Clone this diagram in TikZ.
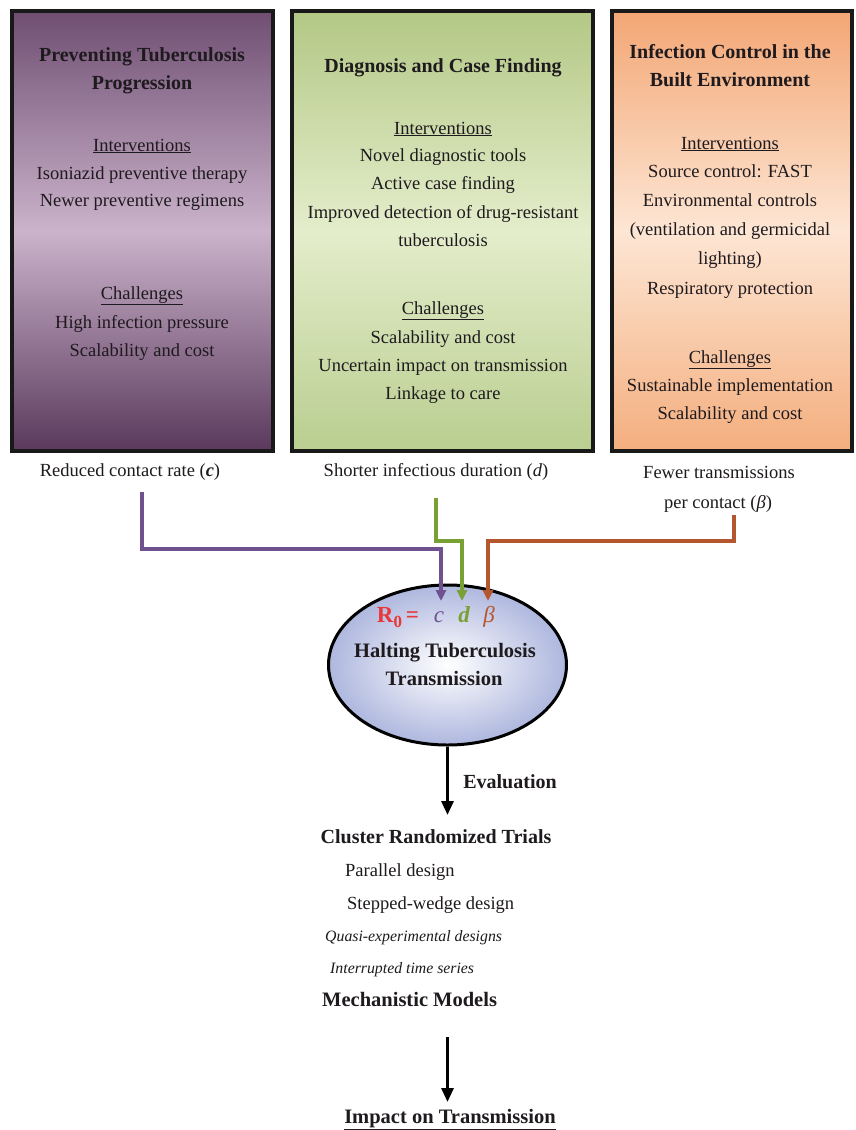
\documentclass[tikz,border=0pt]{standalone}
\usepackage{fontspec}
\setmainfont{Liberation Serif}
\usetikzlibrary{shapes.geometric,arrows.meta}
\definecolor{purpTop}{HTML}{6F4E72}
\definecolor{purpMid}{HTML}{CBB3CB}
\definecolor{purpBot}{HTML}{5A395C}
\definecolor{grnTop}{HTML}{B3C885}
\definecolor{grnMid}{HTML}{E4EDCB}
\definecolor{grnBot}{HTML}{B9CE90}
\definecolor{orTop}{HTML}{F3A674}
\definecolor{orMid}{HTML}{FDE6D4}
\definecolor{orBot}{HTML}{F4AE7E}
\definecolor{ellOut}{HTML}{AEB7DE}
\definecolor{cPurple}{HTML}{6F5190}
\definecolor{dGreen}{HTML}{78A035}
\definecolor{bBrown}{HTML}{B4562E}
\definecolor{rRed}{HTML}{E8383A}
\definecolor{txtDark}{HTML}{1E1A1E}
\begin{document}
\begin{tikzpicture}[x=1pt,y=-1pt,
  panel/.style={draw=black!90, line width=3.5pt, rectangle, inner sep=0pt},
  body/.style={font=\fontsize{18.5}{22}\selectfont, anchor=base, inner sep=0pt, text=txtDark},
  ttl/.style={font=\fontsize{20}{24}\selectfont\bfseries, anchor=base, inner sep=0pt, text=txtDark},
  itl/.style={font=\fontsize{15.8}{19}\selectfont\itshape, anchor=base west, inner sep=0pt, text=txtDark},
  conn/.style={line width=3.5pt, -{Triangle[length=11pt,width=10pt]}},
  blackarrow/.style={line width=3pt, black, -{Triangle[length=14pt,width=12pt]}}
]
\useasboundingbox (0,0) rectangle (856,1130);
\fill[white] (0,0) rectangle (856,1130);

% panels
\node[panel, minimum width=261pt, minimum height=440pt, top color=purpTop, bottom color=purpBot, middle color=purpMid] (p1) at (142.5,231) {};
\node[panel, minimum width=301pt, minimum height=440pt, top color=grnTop, bottom color=grnBot, middle color=grnMid] (p2) at (442.5,231) {};
\node[panel, minimum width=240pt, minimum height=440pt, top color=orTop, bottom color=orBot, middle color=orMid] (p3) at (732,231) {};

% panel 1 text
\node[ttl] (p1t1) at (142,61) {Preventing Tuberculosis};
\node[ttl] (p1t2) at (142,89) {Progression};
\node[body] (p1i) at (142,151) {\underline{Interventions}};
\node[body] (p1i1) at (142,179) {Isoniazid preventive therapy};
\node[body] (p1i2) at (142,206) {Newer preventive regimens};
\node[body] (p1c) at (142,299) {\underline{Challenges}};
\node[body] (p1c1) at (142,328) {High infection pressure};
\node[body] (p1c2) at (142,356) {Scalability and cost};

% panel 2 text
\node[ttl] (p2t1) at (443,72) {Diagnosis and Case Finding};
\node[body] (p2i) at (443,134) {\underline{Interventions}};
\node[body] (p2i1) at (443,161) {Novel diagnostic tools};
\node[body] (p2i2) at (443,189) {Active case finding};
\node[body] (p2i3) at (443,218) {Improved detection of drug-resistant};
\node[body] (p2i4) at (443,246) {tuberculosis};
\node[body] (p2c) at (443,314) {\underline{Challenges}};
\node[body] (p2c1) at (443,343) {Scalability and cost};
\node[body] (p2c2) at (443,371) {Uncertain impact on transmission};
\node[body] (p2c3) at (443,399) {Linkage to care};

% panel 3 text
\node[ttl] (p3t1) at (730,58) {Infection Control in the};
\node[ttl] (p3t2) at (730,86) {Built Environment};
\node[body] (p3i) at (730,149) {\underline{Interventions}};
\node[body] (p3i1) at (730,177) {Source control: FAST};
\node[body] (p3i2) at (730,206) {Environmental controls};
\node[body] (p3i3) at (730,235) {(ventilation and germicidal};
\node[body] (p3i4) at (730,264) {lighting)};
\node[body] (p3i5) at (730,294) {Respiratory protection};
\node[body] (p3c) at (730,363) {\underline{Challenges}};
\node[body] (p3c1) at (730,391) {Sustainable implementation};
\node[body] (p3c2) at (730,419) {Scalability and cost};

% effect labels
\node[body] (e1) at (130,476) {Reduced contact rate (\textbf{\textit{c}})};
\node[body] (e2) at (436,476) {Shorter infectious duration (\textit{d})};
\node[body] (e3a) at (719,478) {Fewer transmissions};
\node[body] (e3b) at (718,508) {per contact (\textit{β})};

% ellipse
\node[ellipse, draw=black, line width=3pt, minimum width=238pt, minimum height=160pt, inner color=white, outer color=ellOut] (ell) at (447.5,665) {};
\node[font=\fontsize{23}{26}\selectfont\bfseries, text=rRed, anchor=base, inner sep=0pt] (r0) at (398,622) {R\raisebox{-5pt}{\fontsize{17}{17}\selectfont 0}\,=};
\node[font=\fontsize{23}{26}\selectfont\itshape, text=cPurple, anchor=base, inner sep=0pt] (lc) at (439,622) {c};
\node[font=\fontsize{23}{26}\selectfont\bfseries\itshape, text=dGreen, anchor=base, inner sep=0pt] (ld) at (464,622) {d};
\node[font=\fontsize{23}{26}\selectfont\itshape, text=bBrown, anchor=base, inner sep=0pt] (lb) at (489,622) {β};
\node[ttl, font=\fontsize{20.5}{24}\selectfont\bfseries] (h1) at (445,657) {Halting Tuberculosis};
\node[ttl, font=\fontsize{20.5}{24}\selectfont\bfseries] (h2) at (444,685) {Transmission};

% connectors
\coordinate (cs) at (142,492);
\coordinate (ce) at (441,601);
\coordinate (ds) at (436,498);
\coordinate (de) at (462,601);
\coordinate (bs) at (734,515);
\coordinate (be) at (488,601);
\draw[conn, cPurple] (cs) |- (441,549) -- (ce);
\draw[conn, dGreen] (ds) |- (462,541) -- (de);
\draw[conn, bBrown] (bs) |- (488,541) -- (be);

% evaluation
\node[ttl] (ev) at (510,788) {Evaluation};
\node[ttl] (crt) at (436,843) {Cluster Randomized Trials};
\coordinate (evend) at (447.5,815);
\draw[blackarrow] (ell.south) -- (evend);
\node[body, anchor=base west] (pd) at (345,876) {Parallel design};
\node[body, anchor=base west] (sw) at (347,909) {Stepped-wedge design};
\node[itl] (qe) at (325,941) {Quasi-experimental designs};
\node[itl] (its) at (330,973) {Interrupted time series};
\node[ttl, anchor=base west, font=\fontsize{20.5}{24}\selectfont\bfseries] (mm) at (322,1006) {Mechanistic Models};
\coordinate (a2s) at (447.5,1037);
\coordinate (a2e) at (447.5,1102);
\node[ttl, font=\fontsize{20.5}{24}\selectfont\bfseries] (imp) at (450,1123) {\underline{Impact on Transmission}};
\draw[blackarrow] (a2s) -- (a2e);
\end{tikzpicture}
\end{document}
